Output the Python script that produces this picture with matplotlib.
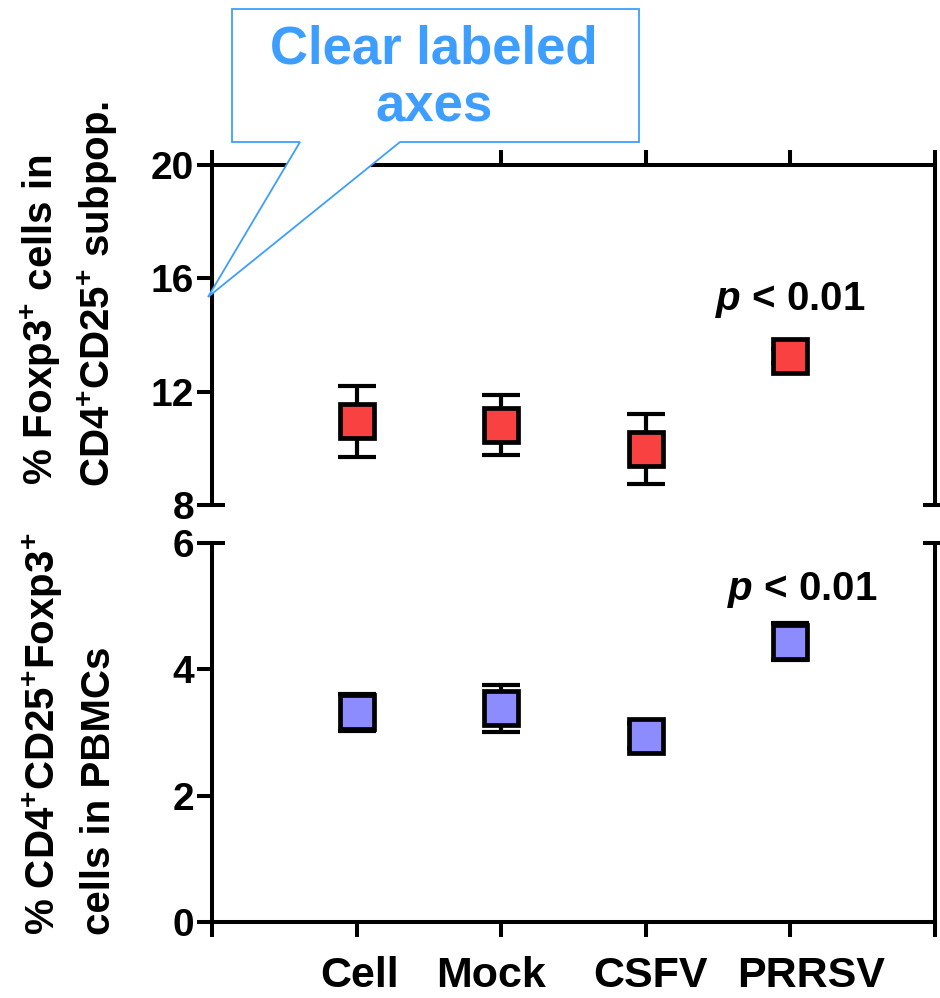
import matplotlib
matplotlib.use("Agg")
import matplotlib.pyplot as plt
import matplotlib.transforms as mtransforms
from matplotlib.patches import Polygon

FONT = "Liberation Sans"
plt.rcParams["mathtext.fontset"] = "custom"
plt.rcParams["mathtext.it"] = "Liberation Sans:italic:bold"
plt.rcParams["mathtext.rm"] = "Liberation Sans:bold"
plt.rcParams["mathtext.bf"] = "Liberation Sans:bold"

# ---------------- data ----------------
categories = ["Cell", "Mock", "CSFV", "PRRSV"]
foxp3_in_cd25 = [10.95, 10.83, 9.98, 13.27]
foxp3_in_cd25_err = [1.25, 1.06, 1.24, 0.25]
treg_in_pbmc = [3.32, 3.38, 2.95, 4.44]
treg_in_pbmc_err = [0.29, 0.37, 0.20, 0.30]
top_yticks = [8, 12, 16, 20]
bottom_yticks = [0, 2, 4, 6]
p_label = "$p$ < 0.01"

# ---------------- style ----------------
W, H = 940, 998
RED = "#FA4141"
BLUE = "#8C8CFF"
CALLOUT = "#3D9EFF"
LW = 2.9
label_offsets = [0.02, -0.07, 0.03, 0.14]

fig = plt.figure(figsize=(W / 100, H / 100), dpi=100)

def fx(px):
    return px / W

def fy(py):
    return 1 - py / H

ax1 = fig.add_axes([fx(212), fy(505), 723 / W, 340 / H])
ax2 = fig.add_axes([fx(212), fy(922), 723 / W, 379 / H])

xpos = list(range(1, len(categories) + 1))

for ax in (ax1, ax2):
    ax.set_xlim(0, 5)
    ax.set_xticks([0, 1, 2, 3, 4, 5])
    for s in ax.spines.values():
        s.set_linewidth(LW)
    ax.tick_params(axis="both", direction="out", length=11, width=LW)
    ax.tick_params(axis="y", pad=2)
    ax.set_xticklabels([])

# top panel
ax1.set_ylim(8, 20)
ax1.set_yticks(top_yticks)
ax1.set_yticklabels([str(t) for t in top_yticks], fontfamily=FONT,
                    fontweight="bold", fontsize=28)
ax1.spines["bottom"].set_visible(False)
ax1.xaxis.set_ticks_position("top")
ax1.tick_params(axis="x", top=True, bottom=False, labeltop=False, labelbottom=False)

# bottom panel
ax2.set_ylim(0, 6)
ax2.set_yticks(bottom_yticks)
ax2.set_yticklabels([str(t) for t in bottom_yticks], fontfamily=FONT,
                    fontweight="bold", fontsize=28)
ax2.spines["top"].set_visible(False)
ax2.tick_params(axis="x", top=False, bottom=True)

# break marks
for ax, yb in ((ax1, 0), (ax2, 1)):
    ax.plot([0, 1], [yb, yb], linestyle="none", marker="_", markersize=18,
            mew=LW, color="k", transform=ax.transAxes, clip_on=False, zorder=5)

def draw_series(ax, vals, errs, color):
    ax.errorbar(xpos, vals, yerr=errs, fmt="none", ecolor="k", elinewidth=3,
                capsize=13.7, capthick=3, zorder=3, clip_on=False)
    ax.plot(xpos, vals, linestyle="none", marker="s", markersize=24,
            markerfacecolor=color, markeredgecolor="k", markeredgewidth=3.4,
            zorder=4, clip_on=False)

draw_series(ax1, foxp3_in_cd25, foxp3_in_cd25_err, RED)
draw_series(ax2, treg_in_pbmc, treg_in_pbmc_err, BLUE)

# p-value annotations
ax1.text(4.0, 14.87, p_label, ha="center", va="baseline", fontsize=29,
         fontfamily=FONT, fontweight="bold")
ax2.text(4.08, 5.09, p_label, ha="center", va="baseline", fontsize=29,
         fontfamily=FONT, fontweight="bold")

# category labels
cat_tr = mtransforms.blended_transform_factory(ax2.transData, fig.transFigure)
for i, (cat, off) in enumerate(zip(categories, label_offsets)):
    ax2.text(xpos[i] + off, fy(987), cat, transform=cat_tr,
             ha="center", va="baseline", fontsize=31, fontfamily=FONT,
             fontweight="bold")

# y-axis labels (two lines each, rotated)
sup = r"$^{\mathbf{+}}$"
ylab_kw = dict(rotation=90, rotation_mode="anchor", ha="left", va="baseline",
               fontsize=29, fontfamily=FONT, fontweight="bold")
fig.text(fx(53), fy(485), "% Foxp3" + sup + " cells in", **ylab_kw)
fig.text(fx(110), fy(487), "CD4" + sup + "CD25" + sup + " subpop.", **ylab_kw)
fig.text(fx(55), fy(935), "% CD4" + sup + "CD25" + sup + "Foxp3" + sup, **ylab_kw)
fig.text(fx(110), fy(935), "cells in PBMCs", **ylab_kw)

# callout
pts_px = [(232, 9), (639, 9), (639, 142), (400, 142), (208, 297), (300, 142), (232, 142)]
poly = Polygon([(fx(x), fy(y)) for x, y in pts_px], closed=True, facecolor="white",
               edgecolor=CALLOUT, linewidth=1.3, transform=fig.transFigure, zorder=10)
fig.add_artist(poly)
fig.text(fx(434), fy(63), "Clear labeled", ha="center", va="baseline", fontsize=38,
         fontfamily=FONT, fontweight="bold", color=CALLOUT, zorder=11)
fig.text(fx(434), fy(121), "axes", ha="center", va="baseline", fontsize=38,
         fontfamily=FONT, fontweight="bold", color=CALLOUT, zorder=11)

fig.savefig("out.png", dpi=100)
